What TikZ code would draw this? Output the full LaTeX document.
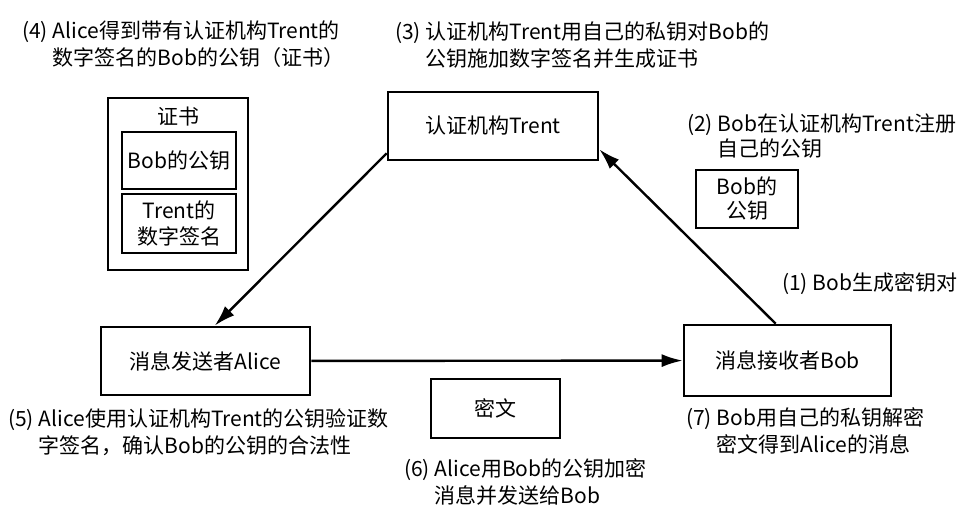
\documentclass[tikz,border=0pt]{standalone}
\usepackage{fontspec}
\setmainfont{Noto Sans CJK SC}
\usetikzlibrary{arrows.meta,calc}
\begin{document}
\begin{tikzpicture}[x=1pt,y=-1pt,
  every node/.style={font=\fontsize{21}{27}\selectfont, inner sep=0pt},
  box/.style={draw, line width=2.6pt, align=center},
  lbl/.style={anchor=west, align=left},
  arr/.style={line width=2.4pt, -{Latex[length=21pt,width=13pt]}}]
\useasboundingbox[fill=white] (0,0) rectangle (963,522);
% main boxes
\node[box, minimum width=210, minimum height=68] (trent) at (493,126) {认证机构Trent};
\node[box, minimum width=209, minimum height=68] (alice) at (205.5,361) {消息发送者Alice};
\node[box, minimum width=207, minimum height=71] (bob) at (787.5,360.5) {消息接收者Bob};
\node[box, minimum width=129, minimum height=59] (cipher) at (495.5,408.5) {密文};
\node[box, minimum width=102, minimum height=58, font=\fontsize{21}{24}\selectfont] (bobkey) at (747,199) {Bob的\\公钥};
% certificate
\node[box, minimum width=140, minimum height=172] (cert) at (178,184) {};
\node (certlbl) at (178,117) {证书};
\node[box, minimum width=114, minimum height=57] (certkey) at (179,160.5) {Bob的公钥};
\node[box, minimum width=114, minimum height=59, font=\fontsize{21}{26}\selectfont] (certsig) at (179,223.5) {Trent的\\数字签名};
% labels
\node[lbl] (l4) at (22,45.5) {(4) Alice得到带有认证机构Trent的\\\phantom{(4) }数字签名的Bob的公钥（证书）};
\node[lbl] (l3) at (395,46.5) {(3) 认证机构Trent用自己的私钥对Bob的\\\phantom{(3) }公钥施加数字签名并生成证书};
\node[lbl, font=\fontsize{21}{25}\selectfont] (l2) at (687,137.5) {(2) Bob在认证机构Trent注册\\\phantom{(2) }自己的公钥};
\node[lbl] (l1) at (782,284) {(1) Bob生成密钥对};
\node[lbl] (l5) at (8,433.5) {(5) Alice使用认证机构Trent的公钥验证数\\\phantom{(5) }字签名，确认Bob的公钥的合法性};
\node[lbl] (l6) at (404,483) {(6) Alice用Bob的公钥加密\\\phantom{(6) }消息并发送给Bob};
\node[lbl] (l7) at (686,432.5) {(7) Bob用自己的私钥解密\\\phantom{(7) }密文得到Alice的消息};
% connectors
\draw[arr] ([yshift=8pt]trent.south west) -- ([xshift=115pt]alice.north west);
\draw[arr] ([xshift=93pt]bob.north west) -- ([yshift=12pt]trent.south east);
\draw[arr] (alice) -- (bob);
\end{tikzpicture}
\end{document}
